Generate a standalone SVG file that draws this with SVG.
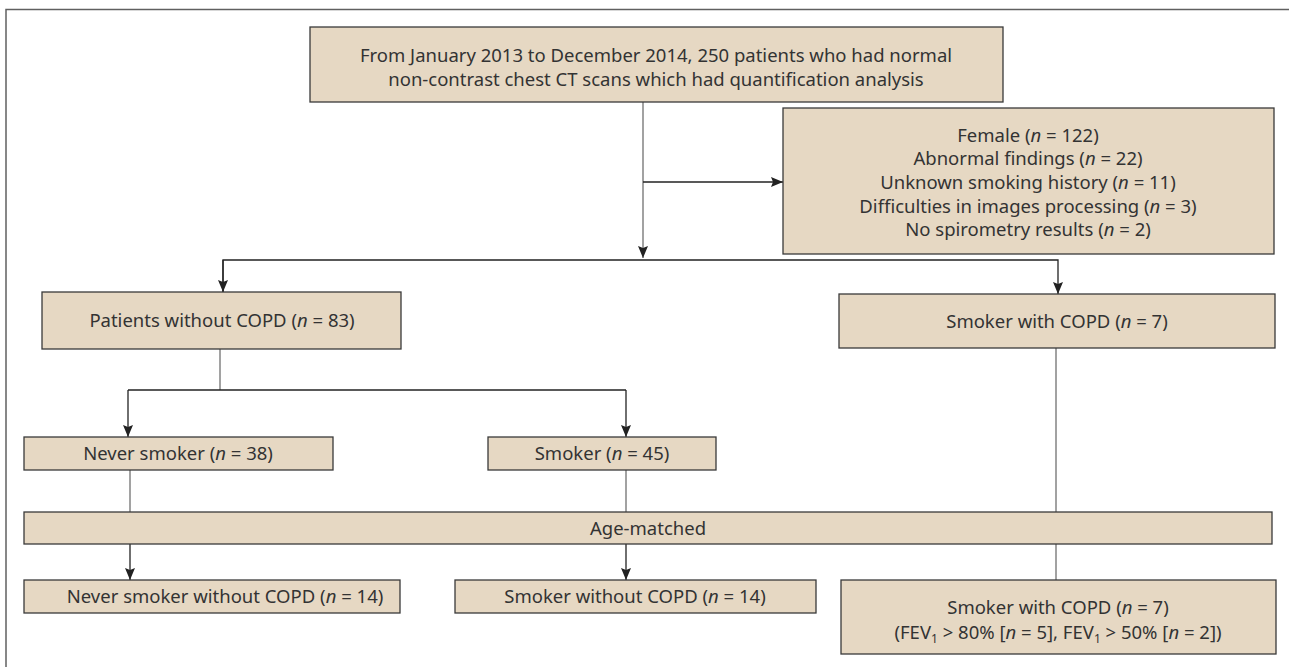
<svg xmlns="http://www.w3.org/2000/svg" width="1289" height="667" viewBox="0 0 1289 667">
<style>
.box{fill:#E6D8C3;stroke:#3a3a3a;stroke-width:1.3}
.t{font-family:"Noto Sans","Open Sans",sans-serif;font-size:18.5px;fill:#333;text-anchor:middle}
.v{stroke:#707070;stroke-width:1.3;fill:none}
.h{stroke:#222;stroke-width:1.3;fill:none}
.frame{stroke:#606060;stroke-width:1.5;fill:none}
</style>
<defs>
<marker id="arr" viewBox="0 0 12 10" refX="12" refY="5" markerWidth="12" markerHeight="10" markerUnits="userSpaceOnUse" orient="auto">
<path d="M0,0 L12,5 L0,10 L2,5 z" fill="#222"/>
</marker>
</defs>
<rect width="1289" height="667" fill="#fff"/>
<path class="frame" d="M6,667 V9.5 H1289"/>
<g id="connectors">
<path class="v" d="M643,102 V258" marker-end="url(#arr)"/>
<path class="h" d="M643,182 H783" marker-end="url(#arr)"/>
<path class="h" d="M223,292 V260 H1058 V294" marker-end="url(#arr)"/>
<path class="h" d="M223,260 V292" marker-end="url(#arr)"/>
<path class="v" d="M220,349 V390"/>
<path class="h" d="M128,390 H626"/>
<path class="h" d="M128,390 V437" marker-end="url(#arr)"/>
<path class="h" d="M626,390 V437" marker-end="url(#arr)"/>
<path class="v" d="M130,470 V512"/>
<path class="v" d="M626,470 V512"/>
<path class="v" d="M1056,348 V580"/>
<path class="h" d="M130,544 V580" marker-end="url(#arr)"/>
<path class="h" d="M626,544 V580" marker-end="url(#arr)"/>
</g>
<g id="n-top">
<rect class="box" x="310" y="27" width="693" height="75"/>
<text class="t" x="656" y="62">From January 2013 to December 2014, 250 patients who had normal</text>
<text class="t" x="656" y="86">non-contrast chest CT scans which had quantification analysis</text>
</g>
<g id="n-excl">
<rect class="box" x="783" y="108" width="491" height="146"/>
<text class="t" x="1028" y="142">Female (<tspan font-style="italic">n</tspan> = 122)</text>
<text class="t" x="1028" y="165">Abnormal findings (<tspan font-style="italic">n</tspan> = 22)</text>
<text class="t" x="1028" y="189">Unknown smoking history (<tspan font-style="italic">n</tspan> = 11)</text>
<text class="t" x="1028" y="213">Difficulties in images processing (<tspan font-style="italic">n</tspan> = 3)</text>
<text class="t" x="1028" y="236">No spirometry results (<tspan font-style="italic">n</tspan> = 2)</text>
</g>
<g id="n-nocopd">
<rect class="box" x="42" y="292" width="359" height="57"/>
<text class="t" x="222" y="327">Patients without COPD (<tspan font-style="italic">n</tspan> = 83)</text>
</g>
<g id="n-copd">
<rect class="box" x="839" y="294" width="436" height="54"/>
<text class="t" x="1057" y="328">Smoker with COPD (<tspan font-style="italic">n</tspan> = 7)</text>
</g>
<g id="n-never">
<rect class="box" x="24" y="437" width="309" height="33"/>
<text class="t" x="178" y="460">Never smoker (<tspan font-style="italic">n</tspan> = 38)</text>
</g>
<g id="n-smoker">
<rect class="box" x="488" y="437" width="228" height="33"/>
<text class="t" x="602" y="460">Smoker (<tspan font-style="italic">n</tspan> = 45)</text>
</g>
<g id="n-age">
<rect class="box" x="24" y="512" width="1248" height="32"/>
<text class="t" x="648" y="535">Age-matched</text>
</g>
<g id="n-never2">
<rect class="box" x="24" y="580" width="376" height="33"/>
<text class="t" x="225" y="603">Never smoker without COPD (<tspan font-style="italic">n</tspan> = 14)</text>
</g>
<g id="n-smoker2">
<rect class="box" x="455" y="580" width="361" height="33"/>
<text class="t" x="635" y="603">Smoker without COPD (<tspan font-style="italic">n</tspan> = 14)</text>
</g>
<g id="n-copd2">
<rect class="box" x="841" y="580" width="435" height="74"/>
<text class="t" x="1058" y="614">Smoker with COPD (<tspan font-style="italic">n</tspan> = 7)</text>
<text class="t" x="1058" y="639">(FEV<tspan font-size="12" dy="4">1</tspan><tspan dy="-4"> &gt; 80% [</tspan><tspan font-style="italic">n</tspan> = 5], FEV<tspan font-size="12" dy="4">1</tspan><tspan dy="-4"> &gt; 50% [</tspan><tspan font-style="italic">n</tspan> = 2])</text>
</g>
</svg>
